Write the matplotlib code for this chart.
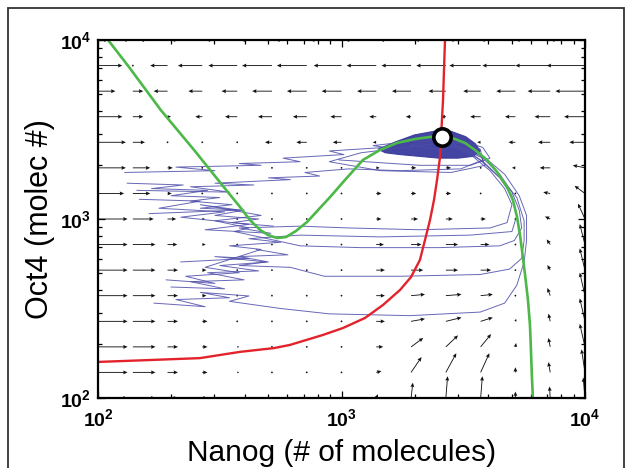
import numpy as np
import matplotlib
matplotlib.use("Agg")
import matplotlib.pyplot as plt
from matplotlib.patches import Rectangle

plt.rcParams['font.family'] = ['Liberation Sans', 'DejaVu Sans']
plt.rcParams['mathtext.fontset'] = 'custom'
plt.rcParams['mathtext.rm'] = 'Liberation Sans'
plt.rcParams['mathtext.bf'] = 'Liberation Sans:bold'

# ---------------- data ----------------
# quiver grid (molecules), 15 x 15 log-spaced points
grid_nanog = [100, 139, 193, 268, 373, 518, 720, 1000, 1389, 1931, 2683, 3728, 5179, 7197, 10000]
grid_oct4 = [100, 139, 193, 268, 373, 518, 720, 1000, 1389, 1931, 2683, 3728, 5179, 7197, 10000]

# arrow components in units of one grid step (rows: low Oct4 -> high Oct4)
arrow_u = [
    [0.85, 0.65, 0.30, 0.15, 0.06, 0.04, 0.03, 0.05, 0.05, 0.05, 0.05, 0.05, 0.00, -0.02, -0.05],
    [0.85, 0.65, 0.30, 0.15, 0.06, 0.04, 0.03, 0.05, 0.15, 0.30, 0.30, 0.25, 0.00, -0.05, -0.10],
    [0.85, 0.65, 0.30, 0.15, 0.06, 0.04, 0.03, 0.05, 0.20, 0.35, 0.35, 0.30, 0.02, -0.05, -0.15],
    [0.85, 0.65, 0.30, 0.15, 0.05, 0.04, 0.03, 0.05, 0.25, 0.40, 0.45, 0.35, 0.02, -0.05, -0.15],
    [0.85, 0.65, 0.30, 0.12, 0.05, 0.03, 0.03, 0.05, 0.25, 0.40, 0.45, 0.35, 0.02, -0.08, -0.15],
    [0.85, 0.65, 0.30, 0.12, 0.05, 0.03, 0.03, 0.05, 0.25, 0.35, 0.35, 0.30, 0.02, -0.08, -0.15],
    [0.85, 0.65, 0.28, 0.10, 0.04, 0.03, 0.03, 0.05, 0.22, 0.30, 0.35, 0.25, 0.02, -0.10, -0.15],
    [0.85, 0.60, 0.25, 0.08, 0.03, 0.03, 0.03, 0.04, 0.15, 0.20, 0.20, 0.15, 0.00, -0.15, -0.20],
    [0.75, 0.50, 0.12, 0.03, 0.02, 0.02, 0.02, 0.03, 0.15, 0.15, 0.15, 0.05, 0.00, -0.20, -0.30],
    [0.80, 0.50, 0.15, 0.02, -0.02, -0.03, -0.03, -0.03, 0.10, 0.15, 0.15, 0.03, -0.10, -0.30, -0.35],
    [0.80, 0.35, 0.03, -0.03, -0.05, -0.20, -0.30, -0.25, -0.10, -0.05, -0.05, -0.10, -0.20, -0.35, -0.45],
    [0.70, 0.30, 0.10, -0.20, -0.35, -0.40, -0.40, -0.32, -0.20, -0.15, -0.15, -0.30, -0.30, -0.45, -0.60],
    [0.50, 0.30, -0.40, -0.40, -0.45, -0.57, -0.57, -0.57, -0.55, -0.55, -0.50, -0.50, -0.55, -0.65, -0.85],
    [0.70, 0.00, -0.50, -0.70, -0.83, -0.86, -0.86, -0.80, -0.85, -0.85, -0.85, -0.90, -0.95, -1.00, -1.10],
    [0.30, -0.30, -0.80, -0.90, -0.90, -0.90, -0.90, -0.90, -0.90, -0.90, -0.90, -0.90, -1.00, -1.00, -1.00],
]
arrow_v = [
    [0, 0, 0, 0, 0, 0, 0, 0.02, 0.15, 0.60, 0.85, 0.85, 0.25, 0.45, 0.80],
    [0, 0, 0, 0, 0, 0, 0, 0.01, 0.05, 0.60, 0.75, 0.75, 0.20, 0.40, 0.90],
    [0, 0, 0, 0, 0, 0, 0, 0.00, 0.00, 0.35, 0.45, 0.50, 0.15, 0.35, 0.90],
    [0, 0, 0, 0, 0, 0, 0, 0.00, 0.00, 0.10, 0.15, 0.15, 0.10, 0.30, 0.90],
    [0, 0, 0, 0, 0, 0, 0, 0.00, 0.00, 0.05, 0.05, 0.05, 0.05, 0.30, 0.90],
    [0, 0, 0, 0, 0, 0, 0, 0.00, 0.00, 0.00, 0.00, 0.00, 0.02, 0.20, 0.85],
    [0, 0, 0, 0, 0, 0, 0, 0.00, 0.00, 0.00, 0.00, 0.00, 0.02, 0.20, 0.80],
    [0, 0, 0, 0, 0, 0, 0, 0.00, 0.00, 0.00, 0.00, 0.00, 0.00, 0.10, 0.60],
    [0, 0, 0, 0, 0, 0, 0, 0.00, 0.00, 0.00, 0.00, 0.00, 0.00, 0.05, 0.30],
    [0, 0, 0, 0, 0, 0, 0, 0.00, 0.00, 0.00, 0.00, 0.00, 0.00, 0.00, 0.10],
    [0] * 15,
    [0] * 15,
    [0] * 15,
    [0] * 15,
    [0] * 15,
]

# nullclines (molecules)
red_nanog = [100, 164, 262, 383, 528, 615, 839, 1014, 1249, 1481, 1738, 1930, 2099,
             2203, 2309, 2398, 2468, 2536, 2564, 2612, 2636, 2661]
red_oct4 = [159, 163, 167, 181, 190, 198, 225, 246, 280, 331, 401, 474, 590,
            764, 986, 1276, 1652, 2193, 2873, 4624, 6801, 10000]

green_nanog = [110, 134, 181, 248, 336, 383, 421, 463, 499, 543, 592, 650, 722, 801,
               898, 1033, 1225, 1439, 1690, 2004, 2308, 2587, 2924, 3214, 3532, 3960,
               4355, 4786, 5058, 5260, 5408, 5510, 5675, 5833, 5943, 6000, 6050, 6110]
green_oct4 = [10000, 7066, 4063, 2430, 1452, 1167, 986, 869, 814, 783, 793, 857, 962, 1122,
              1327, 1652, 2138, 2430, 2660, 2798, 2873, 2910, 2798, 2661, 2430, 2138,
              1833, 1510, 1276, 1026, 814, 671, 487, 352, 256, 185, 134, 100]

# stable fixed point
fixed_nanog = 2587
fixed_oct4 = 2873

# stochastic trajectories (log10 of molecule numbers)
traj_log_nanog = [
    [2.11, 2.48, 2.32, 2.67, 2.58, 2.83, 2.76, 3.01, 2.95, 3.18, 3.13, 3.32, 3.40],
    [2.16, 2.54, 2.38, 2.64, 2.48, 2.79, 2.70, 2.91, 2.85, 3.03, 3.24, 3.49, 3.58, 3.57, 3.49, 3.36, 3.28, 3.40],
    [2.21, 2.58, 2.42, 2.67, 2.48, 2.62, 2.56, 2.73, 2.83, 3.08, 3.40, 3.65, 3.71, 3.74, 3.73, 3.70, 3.65, 3.58, 3.49, 3.43],
    [2.34, 2.62, 2.48, 2.69, 2.58, 2.79, 2.93, 3.24, 3.57, 3.69, 3.74, 3.75, 3.75, 3.72, 3.66, 3.59, 3.51, 3.44],
    [2.23, 2.44, 2.32, 2.54, 2.42, 2.62, 2.54, 2.75, 2.95, 3.28, 3.57, 3.67, 3.72, 3.75, 3.76, 3.76, 3.73, 3.67, 3.60, 3.52, 3.45],
    [2.28, 2.48, 2.36, 2.58, 2.44, 2.67, 2.54, 2.75, 2.62, 2.83, 3.16, 3.53, 3.70, 3.72, 3.70, 3.65, 3.57, 3.47],
    [2.17, 2.42, 2.25, 2.52, 2.34, 2.62, 2.44, 2.71, 2.58, 2.83, 3.03, 3.32, 3.61, 3.68, 3.70, 3.67, 3.61, 3.53, 3.45],
    [2.99, 3.32, 3.53, 3.61, 3.58, 3.49, 3.32, 3.08, 2.95, 3.16, 3.45, 3.59, 3.56, 3.47],
    [2.12, 2.35, 2.22, 2.45, 2.30, 2.50, 2.38, 2.55, 2.42, 2.60, 2.48, 2.66, 2.55, 2.72],
    [2.30, 2.52, 2.38, 2.60, 2.45, 2.66, 2.50, 2.70, 2.58, 2.78, 2.65],
]
traj_log_oct4 = [
    [3.26, 3.27, 3.29, 3.30, 3.31, 3.32, 3.34, 3.36, 3.38, 3.40, 3.41, 3.44, 3.46],
    [3.16, 3.15, 3.18, 3.19, 3.20, 3.22, 3.23, 3.24, 3.26, 3.28, 3.27, 3.28, 3.33, 3.39, 3.42, 3.44, 3.41, 3.39],
    [3.03, 3.05, 3.08, 3.02, 2.99, 2.95, 2.93, 2.88, 2.85, 2.84, 2.84, 2.85, 2.88, 2.95, 3.05, 3.15, 3.25, 3.34, 3.40, 3.44],
    [2.76, 2.78, 2.79, 2.76, 2.74, 2.73, 2.68, 2.68, 2.69, 2.72, 2.78, 2.88, 2.99, 3.12, 3.22, 3.31, 3.39, 3.42],
    [2.53, 2.51, 2.55, 2.56, 2.59, 2.57, 2.54, 2.50, 2.47, 2.46, 2.48, 2.53, 2.63, 2.76, 2.88, 3.02, 3.13, 3.25, 3.33, 3.39, 3.41],
    [2.66, 2.64, 2.68, 2.70, 2.73, 2.83, 2.85, 2.87, 2.89, 2.91, 2.90, 2.91, 2.93, 3.02, 3.13, 3.23, 3.33, 3.41],
    [3.11, 3.10, 3.06, 3.04, 3.01, 2.97, 2.94, 2.92, 2.95, 2.96, 2.95, 2.94, 2.95, 2.98, 3.08, 3.17, 3.27, 3.36, 3.41],
    [3.33, 3.30, 3.30, 3.34, 3.40, 3.44, 3.41, 3.37, 3.32, 3.27, 3.26, 3.30, 3.39, 3.43],
    [3.20, 3.19, 3.17, 3.16, 3.13, 3.12, 3.10, 3.08, 3.06, 3.05, 3.02, 3.00, 2.98, 2.96],
    [2.62, 2.61, 2.65, 2.66, 2.70, 2.71, 2.74, 2.76, 2.79, 2.80, 2.83],
]

# dense cloud of trajectories around the fixed point (log10)
cloud_log_nanog = [3.15, 3.22, 3.30, 3.38, 3.45, 3.51, 3.55, 3.57, 3.54, 3.48, 3.40, 3.32, 3.24, 3.18]
cloud_log_oct4 = [3.39, 3.43, 3.47, 3.49, 3.49, 3.46, 3.42, 3.38, 3.35, 3.34, 3.34, 3.35, 3.36, 3.37]

# ---------------- figure ----------------
fig = plt.figure(figsize=(6.32, 4.68), dpi=100)
fig.patch.set_facecolor('white')
pos = [0.1551, 0.1496, 0.7705, 0.7649]

# vector field drawn on a linear overlay in log10 units
axq = fig.add_axes(pos)
axq.set_xlim(2, 4)
axq.set_ylim(2, 4)
axq.axis('off')
LX, LY = np.meshgrid(np.log10(grid_nanog), np.log10(grid_oct4))
step_x = np.diff(np.log10(grid_nanog)).mean()
step_y = np.diff(np.log10(grid_oct4)).mean()
U = np.array(arrow_u) * step_x
V = np.array(arrow_v) * step_y
axq.quiver(LX, LY, U, V, angles='xy', scale_units='xy', scale=1,
           width=0.0018, headwidth=4.5, headlength=5, headaxislength=4.5,
           minlength=2.2, color='#111111')

ax = fig.add_axes(pos)
ax.patch.set_visible(False)
ax.set_xscale('log')
ax.set_yscale('log')

traj_color = '#4c4caa'
for lx, ly in zip(traj_log_nanog, traj_log_oct4):
    ax.plot(10 ** np.array(lx), 10 ** np.array(ly), color=traj_color, lw=0.7, alpha=0.85)
ax.fill(10 ** np.array(cloud_log_nanog), 10 ** np.array(cloud_log_oct4),
        color='#3a3a9e', lw=0.8, alpha=0.95)

ax.plot(red_nanog, red_oct4, color='#e3232b', lw=1.7, solid_capstyle='butt')
ax.plot(green_nanog, green_oct4, color='#4cb848', lw=1.9, solid_capstyle='butt')
ax.plot([fixed_nanog], [fixed_oct4], 'o', ms=12.5, mfc='white', mec='black', mew=2.6)

ax.set_xlim(100, 10000)
ax.set_ylim(100, 10000)
ticks = [100, 1000, 10000]
labels = [r'$\mathbf{10^{2}}$', r'$\mathbf{10^{3}}$', r'$\mathbf{10^{4}}$']
ax.set_xticks(ticks)
ax.set_xticklabels(labels)
ax.set_yticks(ticks)
ax.set_yticklabels(labels)
ax.tick_params(which='both', direction='in', top=True, right=True, labelsize=14, width=0.9)
ax.tick_params(which='major', length=5)
ax.tick_params(which='minor', length=3)
ax.tick_params(axis='x', which='major', pad=7)
ax.tick_params(axis='y', which='major', pad=5)
for s in ax.spines.values():
    s.set_linewidth(1.6)

ax.set_xlabel('Nanog (# of molecules)', fontsize=21.5)
ax.set_ylabel('Oct4 (molec #)', fontsize=22)
ax.xaxis.set_label_coords(0.5, -0.115)
ax.yaxis.set_label_coords(-0.088, 0.5)

fig.add_artist(Rectangle((8 / 632, -0.02), 616 / 632, 1 - 8 / 468 + 0.02,
                         transform=fig.transFigure, fill=False,
                         edgecolor='#333333', lw=1.3, clip_on=False))

fig.savefig('out.png', dpi=100, facecolor='white')
